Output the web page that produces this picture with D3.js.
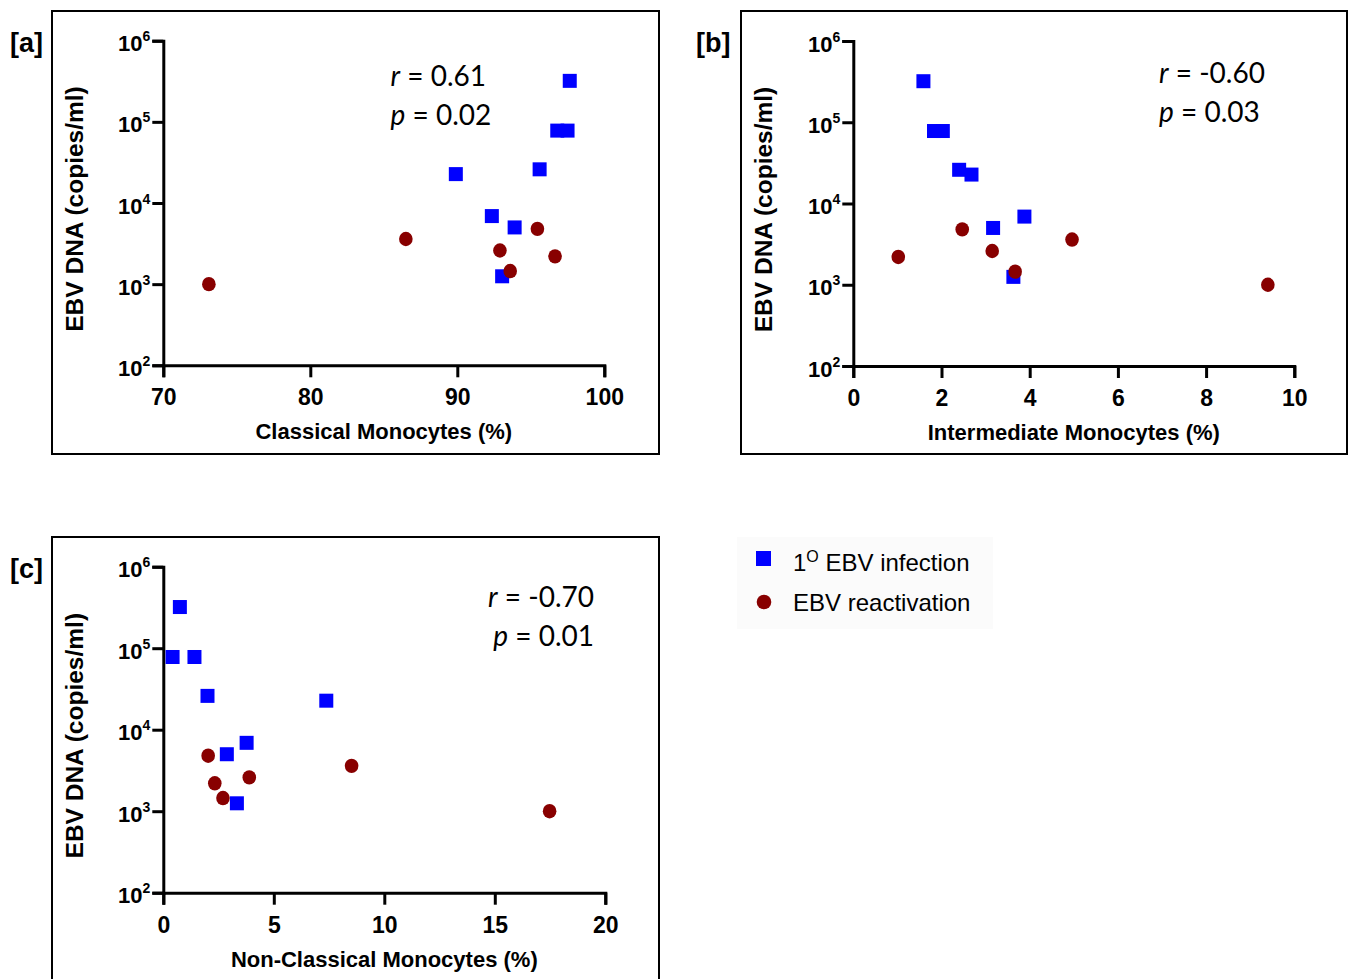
<!DOCTYPE html>
<html>
<head>
<meta charset="utf-8">
<script src="https://cdn.jsdelivr.net/npm/d3@7"></script>
<style>
  body { margin: 0; background: #fff; }
  svg { display: block; }
</style>
</head>
<body>
<svg id="fig" width="1349" height="979"></svg>
<script>
// EBV DNA load (copies/ml), one value per patient
const primaryDNA = [320000, 78000, 78000, 26000, 22700, 6900, 5000, 1250];
const reactivationDNA = [1000, 3600, 2600, 4800, 1450, 2200];

// Monocyte subset percentages, in the same patient order as above
const classicalPrimary = [97.65, 97.5, 96.8, 95.6, 89.9, 92.35, 93.9, 93.05];
const classicalReactivation = [73.1, 86.5, 92.9, 95.45, 93.6, 96.65];
const intermediatePrimary = [1.59, 2.03, 1.83, 2.4, 2.68, 3.88, 3.17, 3.63];
const intermediateReactivation = [9.4, 4.96, 3.15, 2.47, 3.67, 1.02];
const nonClassicalPrimary = [0.75, 0.42, 1.41, 2.0, 7.375, 3.77, 2.875, 3.33];
const nonClassicalReactivation = [17.48, 8.52, 3.89, 2.03, 2.7, 2.33];

// Axis ticks
const dnaTicks = [1e2, 1e3, 1e4, 1e5, 1e6];
const classicalTicks = [70, 80, 90, 100];
const intermediateTicks = [0, 2, 4, 6, 8, 10];
const nonClassicalTicks = [0, 5, 10, 15, 20];

// Panel text
const panelLetters = ["[a]", "[b]", "[c]"];
const xTitles = ["Classical Monocytes (%)", "Intermediate Monocytes (%)", "Non-Classical Monocytes (%)"];
const yTitle = "EBV DNA (copies/ml)";
const rValues = ["0.61", "-0.60", "-0.70"];
const pValues = ["0.02", "0.03", "0.01"];
const legendLabels = ["EBV infection", "EBV reactivation"];

const BLUE = "#0000ff";
const RED = "#880000";
const BOLD = "'Liberation Sans', Arial, Helvetica, sans-serif";
const STAT_FONT = "Lato, 'Open Sans', sans-serif";

const svg = d3.select("#fig");

const panels = [
  {
    frame: [52, 11, 607, 443], letter: [10, 52],
    x0: 163.3, y0: 365.3, w: 441, h: 324.6,
    domain: [70, 100], ticks: classicalTicks,
    prim: classicalPrimary, react: classicalReactivation,
    stat: { x: 390.5, y: 86, anchor: "start" }
  },
  {
    frame: [741, 11, 606, 443], letter: [696, 52],
    x0: 853.3, y0: 366, w: 441, h: 325,
    domain: [0, 10], ticks: intermediateTicks,
    prim: intermediatePrimary, react: intermediateReactivation,
    stat: { x: 1159, y: 82.7, anchor: "start" }
  },
  {
    frame: [52, 537, 607, 460], letter: [10, 578],
    x0: 163.3, y0: 892.7, w: 442, h: 326,
    domain: [0, 20], ticks: nonClassicalTicks,
    prim: nonClassicalPrimary, react: nonClassicalReactivation,
    stat: { x: 594, y: 606.7, anchor: "end" }
  }
];

panels.forEach((p, i) => {
  // frame
  svg.append("rect")
    .attr("x", p.frame[0]).attr("y", p.frame[1])
    .attr("width", p.frame[2]).attr("height", p.frame[3])
    .attr("fill", "none").attr("stroke", "#000").attr("stroke-width", 2);

  // panel letter
  svg.append("text")
    .attr("x", p.letter[0]).attr("y", p.letter[1])
    .attr("font-family", BOLD).attr("font-weight", "bold")
    .attr("font-size", 27).text(panelLetters[i]);

  const x = d3.scaleLinear().domain(p.domain).range([p.x0, p.x0 + p.w]);
  const y = d3.scaleLog().domain([1e2, 1e6]).range([p.y0, p.y0 - p.h]);

  // x axis
  const gx = svg.append("g")
    .attr("transform", `translate(0,${p.y0})`)
    .call(d3.axisBottom(x).tickValues(p.ticks).tickSize(12).tickSizeOuter(12).tickPadding(6));
  gx.selectAll("path, line").attr("stroke", "#000").attr("stroke-width", 3);
  gx.selectAll("text")
    .attr("font-family", BOLD).attr("font-weight", "bold").attr("font-size", 23)
    .attr("fill", "#000").attr("dy", "0.95em");

  // y axis (log, labelled as powers of ten)
  const gy = svg.append("g")
    .attr("transform", `translate(${p.x0},0)`)
    .call(d3.axisLeft(y).tickValues(dnaTicks).tickSize(11).tickSizeOuter(11).tickFormat(""));
  gy.selectAll("path, line").attr("stroke", "#000").attr("stroke-width", 3);
  gy.selectAll(".tick").each(function (d) {
    const t = d3.select(this).append("text")
      .attr("x", -13).attr("y", 10)
      .attr("text-anchor", "end")
      .attr("font-family", BOLD).attr("font-weight", "bold").attr("fill", "#000");
    t.append("tspan").attr("font-size", 22).text("10");
    t.append("tspan").attr("font-size", 14).attr("dy", -10).text(Math.round(Math.log10(d)));
  });

  // axis titles
  svg.append("text")
    .attr("x", p.x0 + p.w / 2).attr("y", p.y0 + 74)
    .attr("text-anchor", "middle")
    .attr("font-family", BOLD).attr("font-weight", "bold").attr("font-size", 22)
    .text(xTitles[i]);

  svg.append("text")
    .attr("transform", `translate(${p.frame[0] + 31},${p.y0 - p.h / 2 + 6}) rotate(-90)`)
    .attr("text-anchor", "middle")
    .attr("font-family", BOLD).attr("font-weight", "bold").attr("font-size", 24.5)
    .text(yTitle);

  // primary infection: squares
  const side = 14;
  svg.append("g").selectAll("rect")
    .data(p.prim.map((v, k) => [v, primaryDNA[k]]))
    .join("rect")
    .attr("x", d => x(d[0]) - side / 2)
    .attr("y", d => y(d[1]) - side / 2)
    .attr("width", side).attr("height", side)
    .attr("fill", BLUE);

  // reactivation: circles
  svg.append("g").selectAll("ellipse")
    .data(p.react.map((v, k) => [v, reactivationDNA[k]]))
    .join("ellipse")
    .attr("cx", d => x(d[0]))
    .attr("cy", d => y(d[1]))
    .attr("rx", 6.8).attr("ry", 7.2)
    .attr("fill", RED);

  // correlation statistics
  const s = p.stat;
  const rt = svg.append("text")
    .attr("x", s.x).attr("y", s.y).attr("text-anchor", s.anchor)
    .attr("font-family", STAT_FONT).attr("font-size", 28).attr("fill", "#000");
  rt.append("tspan").attr("font-style", "italic").text("r");
  rt.append("tspan").text(" = " + rValues[i]);
  const pt = svg.append("text")
    .attr("x", s.x).attr("y", s.y + 39).attr("text-anchor", s.anchor)
    .attr("font-family", STAT_FONT).attr("font-size", 28).attr("fill", "#000");
  pt.append("tspan").attr("font-style", "italic").text("p");
  pt.append("tspan").text(" = " + pValues[i]);
});

// legend
const legend = svg.append("g");
legend.append("rect")
  .attr("x", 737).attr("y", 537).attr("width", 256).attr("height", 92)
  .attr("fill", "#fbfbfb");
legend.append("rect")
  .attr("x", 756).attr("y", 551).attr("width", 15).attr("height", 15)
  .attr("fill", BLUE);
legend.append("circle")
  .attr("cx", 764).attr("cy", 602).attr("r", 7.3)
  .attr("fill", RED);
const l1 = legend.append("text")
  .attr("x", 793).attr("y", 571)
  .attr("font-family", "'Liberation Sans', Arial, Helvetica, sans-serif")
  .attr("font-size", 24).attr("fill", "#000");
l1.append("tspan").text("1");
l1.append("tspan").attr("font-size", 16).attr("dy", -9).text("O");
l1.append("tspan").attr("dy", 9).text(" " + legendLabels[0]);
legend.append("text")
  .attr("x", 793).attr("y", 611)
  .attr("font-family", "'Liberation Sans', Arial, Helvetica, sans-serif")
  .attr("font-size", 24).attr("fill", "#000")
  .text(legendLabels[1]);
</script>
</body>
</html>
